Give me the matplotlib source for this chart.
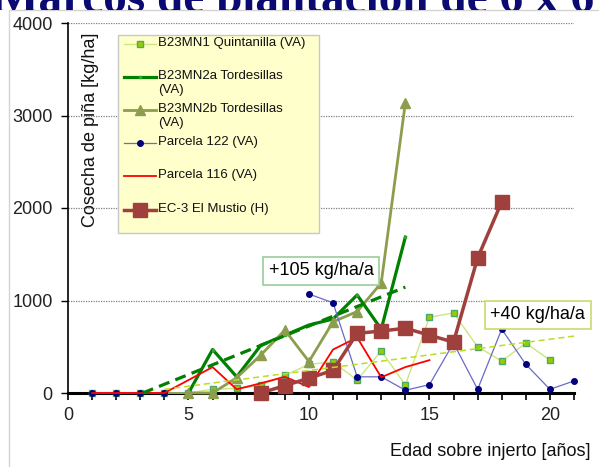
import matplotlib
matplotlib.use("Agg")
import matplotlib.pyplot as plt
from matplotlib.lines import Line2D
from matplotlib.patches import Rectangle
from matplotlib.transforms import Bbox, TransformedBbox

nan = float("nan")

# values (kg/ha per year of age)
quintanilla_x = list(range(1, 21))
quintanilla = [0, 0, 0, 0, 0, 40, 50, 85, 190, 310, 335, 140, 455, 85, 820, 865, 500, 345, 540, 355]
tord2a_x = list(range(5, 15))
tord2a = [0, 470, 175, 515, 625, 735, 800, 1060, 690, 1685]
tord2b_x = list(range(5, 15))
tord2b = [0, 0, 165, 410, 680, 340, 770, 880, 1190, 3135]
parc122_x = list(range(1, 22))
parc122 = [0, 0, 0, 0, nan, nan, nan, nan, nan, 1070, 975, 175, 175, 30, 90, 540, 40, 690, 310, 40, 130]
parc116_x = list(range(1, 16))
parc116 = [0, 0, 0, 0, 140, 280, 40, 105, 175, 65, 470, 600, 170, 280, 355]
mustio_x = list(range(8, 19))
mustio = [0, 80, 160, 245, 645, 670, 700, 625, 550, 1460, 2065]

trend_a_x = [3.1, 14]
trend_a = [0, 1145]
trend_b_x = [4, 21]
trend_b = [40, 615]

labels = ["B23MN1 Quintanilla (VA)", "B23MN2a Tordesillas\n(VA)", "B23MN2b Tordesillas\n(VA)",
          "Parcela 122 (VA)", "Parcela 116 (VA)", "EC-3 El Mustio (H)"]

styles = [
    dict(color="#CCE680", lw=1.0, marker="s", ms=5, mfc="#99CC00", mec="#4FA86A", mew=1.0),
    dict(color="#008000", lw=2.3, marker="s", ms=2, mfc="#33A033", mec="#33A033"),
    dict(color="#8C9E4E", lw=2.0, marker="^", ms=6.5, mfc="#8C9E4E", mec="#8C9E4E"),
    dict(color="#6A6AC8", lw=0.9, marker="o", ms=4, mfc="#000080", mec="#000080"),
    dict(color="#FF0000", lw=1.3),
    dict(color="#A0403C", lw=2.5, marker="s", ms=10, mfc="#A0403C", mec="#A0403C"),
]

W, H = 599, 467


def fxy(x, y):
    # image pixel -> figure fraction
    return x / W, 1 - y / H


fig = plt.figure(figsize=(W / 100, H / 100), dpi=100)
fig.patch.set_facecolor("white")

# title cut off by the chart area, only its lower part shows above it
cx, cy = fxy(9, 10)
tx, ty = fxy(-6, 12)
title = fig.text(tx, ty, "Marcos de plantación de 6 x 6", family="Liberation Serif",
                 weight="bold", fontsize=34, color="#0A0A72", ha="left", va="baseline")
title.set_clip_box(TransformedBbox(Bbox([[0, cy], [1, 1]]), fig.transFigure))
title.set_clip_on(True)
fig.add_artist(Line2D([cx, cx, 1], [0, cy, cy], transform=fig.transFigure,
                      color="#D4D4D4", lw=1))

l, b = fxy(68, 393)
r, t = fxy(574, 23)
ax = fig.add_axes([l, b, r - l, t - b])
ax.set_facecolor("none")

series = [(quintanilla_x, quintanilla), (tord2a_x, tord2a), (tord2b_x, tord2b),
          (parc122_x, parc122), (parc116_x, parc116), (mustio_x, mustio)]
for i, ((xs, ys), st) in enumerate(zip(series, styles)):
    ax.plot(xs, ys, clip_on=False, zorder=3 + i, **st)

ax.plot(trend_a_x, trend_a, color="#008000", lw=2.3, ls=(0, (3.5, 2)), zorder=10)
ax.plot(trend_b_x, trend_b, color="#BBDD22", lw=1.1, ls=(0, (4, 2.5)), zorder=10)

ax.set_xlim(0, 21)
ax.set_ylim(0, 4000)
ax.set_xticks(range(22))
ax.set_xticklabels([str(v) if v % 5 == 0 else "" for v in range(22)])
ax.set_yticks([0, 1000, 2000, 3000, 4000])
ax.tick_params(axis="x", direction="out", length=5, width=1.2, labelsize=13, pad=5,
               labelcolor="#222222")
ax.tick_params(axis="y", direction="out", length=5, width=1, labelsize=13, pad=6,
               labelcolor="#222222")
for lab in ax.get_xticklabels() + ax.get_yticklabels():
    lab.set_family("Liberation Sans")

for s in ["top", "right"]:
    ax.spines[s].set_visible(False)
ax.spines["left"].set_linewidth(1.2)
ax.spines["bottom"].set_linewidth(2.2)
ax.spines["bottom"].set_zorder(2)
ax.grid(axis="y", color="#808080", lw=0.9, ls=(0, (1, 1)))
ax.set_axisbelow(True)

ax.text(0.045, 0.973, "Cosecha de piña [kg/ha]", transform=ax.transAxes, rotation=90,
        ha="center", va="top", fontsize=13, family="Liberation Sans", color="#111111")
fig.text(*fxy(591, 451), "Edad sobre injerto [años]", ha="right", va="center",
         fontsize=13, family="Liberation Sans", color="#111111")

ax.text(10.5, 1320, "+105 kg/ha/a", ha="center", va="center", fontsize=13,
        family="Liberation Sans", zorder=12,
        bbox=dict(boxstyle="square,pad=0.3", fc="white", ec="#9ACD9A", lw=1.2))
ax.text(19.5, 845, "+40 kg/ha/a", ha="center", va="center", fontsize=13,
        family="Liberation Sans", zorder=12,
        bbox=dict(boxstyle="square,pad=0.3", fc="white", ec="#C8DC6E", lw=1.2))

# legend drawn by hand so wrapped labels keep their handle on the first line
lx0, ly0 = fxy(118, 233)
lx1, ly1 = fxy(319, 35)
fig.add_artist(Rectangle((lx0, ly0), lx1 - lx0, ly1 - ly0, transform=fig.transFigure,
                         facecolor="#FFFFCC", edgecolor="#C8C8C8", lw=1, zorder=20))
rows = [44, 77, 110, 143, 176, 210]
for yrow, lab, st in zip(rows, labels, styles):
    hx0, hy = fxy(124, yrow)
    hx1, _ = fxy(156, yrow)
    mx, _ = fxy(140, yrow)
    lst = {k: v for k, v in st.items() if k not in ("marker", "ms", "mfc", "mec", "mew")}
    fig.add_artist(Line2D([hx0, hx1], [hy, hy], transform=fig.transFigure, zorder=21, **lst))
    if "marker" in st:
        fig.add_artist(Line2D([mx], [hy], transform=fig.transFigure, zorder=22, ls="none",
                              marker=st["marker"], ms=st["ms"], mfc=st["mfc"], mec=st["mec"],
                              mew=st.get("mew", 1)))
    tx, ty = fxy(158, yrow - 7)
    fig.text(tx, ty, lab, ha="left", va="top", fontsize=9.5, family="Liberation Sans",
             linespacing=1.2, zorder=23, color="#111111")

fig.savefig("out.png", dpi=100)
